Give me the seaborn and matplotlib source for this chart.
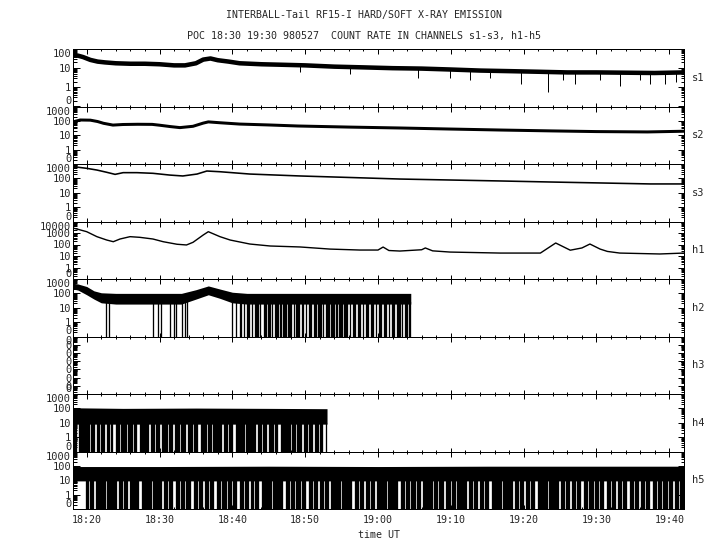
import numpy as np
import pandas as pd
import matplotlib
matplotlib.use("Agg")
import matplotlib.pyplot as plt
import seaborn as sns
from matplotlib.ticker import FixedLocator, MultipleLocator, FuncFormatter, LogLocator, NullFormatter

# ---------------- data (time in minutes after 18:00 UT) ----------------
channels = ["s1", "s2", "s3", "h1", "h2", "h3", "h4", "h5"]
panel_tops = [100, 1000, 1000, 10000, 1000, 1, 1000, 1000]
panel_bottoms = [0.1, 0.1, 0.1, 0.1, 0.1, 1e-7, 0.1, 0.1]

s1_t = [18.2, 18.8, 19.5, 20.5, 21.5, 22.5, 24, 26, 28, 30, 32, 33.5, 35, 36, 37, 38, 39.5, 41,
        44, 47, 50, 54, 58, 62, 66, 70, 74, 78, 82, 86, 90, 94, 98, 102]
s1_v = [45, 45, 38, 27, 22, 20, 18, 17, 17, 16, 14, 14, 18, 28, 32, 26, 22, 18,
        16, 15, 14, 12, 11, 10, 9.5, 8.5, 7.5, 7, 6.5, 6, 6, 5.8, 5.6, 6]
s1_spike_t = [49.3, 56.2, 65.5, 69.9, 72.7, 75.4, 79.7, 83.3, 85.4, 87.1, 90.5, 93.2, 96.0,
              97.4, 99.4, 100.9]
s1_spike_min = [6, 5, 3, 3, 2.5, 3, 1.5, 0.6, 2.5, 1.5, 2.5, 1.2, 2.5, 1.5, 1.5, 2]

s2_t = [18.2, 19.1, 20.5, 21.5, 22.3, 23.6, 25, 27, 29, 30, 31.5, 32.8, 34.6, 36, 36.7, 38.3,
        41, 45, 49, 56, 63, 70, 77, 84, 90, 97, 102]
s2_v = [87, 115, 112, 90, 68, 51, 56, 58, 57, 50, 40, 34, 42, 70, 85, 74,
        60, 52, 44, 37, 32, 27, 23, 20, 18, 17, 19]

s3_t = [18.2, 20, 21.4, 22.75, 23.9, 25, 26.9, 29.1, 31.4, 33.2, 35.15, 36.5, 38.3, 42.4,
        49.3, 56.2, 63, 69.9, 76.8, 83.6, 90.5, 97.4, 102]
s3_v = [650, 500, 380, 265, 190, 250, 250, 225, 170, 147, 200, 325, 290, 200,
        147, 115, 90, 77, 66, 56, 48, 41, 41]

h1_t = [18.2, 18.8, 20, 21.4, 22.75, 23.65, 24.57, 25.95, 27.3, 29.1, 30.5, 32.4, 33.7, 34.6,
        36, 36.7, 38.3, 39.7, 42.4, 45.2, 49.3, 53.4, 57.5, 60.0, 60.7, 61.5, 63, 66, 66.5,
        67.5, 69.9, 76.8, 82.3, 84.4, 86.4, 88, 89.1, 90.5, 91.5, 93.2, 98.7, 102]
h1_v = [2600, 2100, 1300, 480, 245, 175, 300, 480, 420, 300, 175, 105, 91, 155,
        670, 1300, 480, 245, 110, 74, 61, 40, 33, 33, 60, 30, 27, 35, 50,
        28, 22, 18, 18, 135, 32, 50, 110, 40, 25, 18, 15, 18]

# h2: noise band and intervals where the count drops to zero
h2_t = [18.16, 18.8, 20, 21, 22, 24, 30, 33, 35, 36.7, 38.3, 40, 42, 50, 60, 64.5]
h2_hi = [500, 450, 300, 150, 110, 100, 100, 100, 180, 330, 200, 120, 100, 100, 100, 100]
h2_lo = [200, 170, 80, 40, 22, 18, 18, 18, 40, 80, 45, 22, 18, 18, 18, 18]
h2_zero_start = [22.7, 23.0, 29.15, 29.8, 30.15, 31.4, 32.0, 32.3, 33.05, 33.5, 33.8,
                 40.0, 40.5, 41.0, 41.6, 42.0, 42.7, 43.1, 43.85, 44.3, 44.95, 45.5, 45.9,
                 46.6, 47.0, 47.7, 48.4, 48.8, 49.5, 50.1, 50.5, 51.2, 51.8, 52.5, 52.9,
                 53.6, 54.3, 54.7, 55.4, 56.1, 56.5, 57.2, 57.9, 58.3, 59.0, 59.7, 60.1,
                 60.8, 61.5, 61.9, 62.6, 63.3, 63.7, 64.3]
h2_zero_end = [22.85, 23.15, 29.3, 29.95, 30.3, 31.55, 32.15, 32.45, 33.2, 33.65, 33.95,
               40.15, 40.65, 41.3, 41.75, 42.4, 42.85, 43.6, 44.0, 44.7, 45.3, 45.65, 46.4,
               46.75, 47.5, 48.2, 48.55, 49.3, 49.9, 50.25, 51.0, 51.6, 52.3, 52.65, 53.4,
               54.1, 54.45, 55.2, 55.9, 56.3, 57.0, 57.7, 58.05, 58.8, 59.5, 59.85, 60.6,
               61.3, 61.65, 62.4, 63.1, 63.45, 64.1, 64.5]

# h4: noise band and the short intervals where the count stays above zero
h4_t = [18.16, 25, 35, 45, 53.0]
h4_hi = [110, 100, 105, 100, 95]
h4_lo = [8, 8, 8, 8, 8]
h4_gap_start = [18.6, 20.0, 20.45, 21.15, 21.8, 22.5, 23.2, 23.65, 24.55, 25.5, 26.4, 26.95,
                27.8, 28.5, 29.4, 30.05, 31.2, 31.9, 32.8, 33.7, 34.6, 35.3, 36.5, 37.2,
                37.85, 38.6, 39.4, 40.1, 41.0, 41.7, 42.5, 43.2, 44.1, 44.8, 45.7, 46.3,
                47.3, 48.0, 48.8, 49.5, 50.4, 51.1, 51.9, 52.5]
h4_gap_end = [18.9, 20.1, 20.65, 21.4, 21.9, 22.8, 23.3, 24.0, 24.65, 25.7, 26.5, 27.3,
              27.9, 28.8, 29.5, 30.4, 31.3, 32.1, 32.9, 33.95, 34.7, 35.75, 36.6, 37.4,
              37.95, 38.9, 39.5, 40.45, 41.1, 41.9, 42.6, 43.55, 44.2, 45.1, 45.8, 46.7,
              47.4, 48.2, 48.9, 49.85, 50.5, 51.3, 52.0, 52.8]

# h5: noise band and the short intervals where the count stays above zero
h5_t = [18.16, 30, 45, 60, 75, 90, 102.06]
h5_hi = [90, 90, 95, 90, 95, 95, 95]
h5_lo = [9, 9, 9, 9, 9, 9, 9]
h5_gap_start = [18.16, 20.3, 21.0, 21.9, 22.6, 23.3, 24.1, 25.0, 25.7, 26.6, 27.2, 28.1, 28.9,
                29.6, 30.3, 31.2, 31.9, 32.8, 33.5, 34.3, 35.3, 36.0, 36.8, 37.5, 38.5, 39.2,
                40.0, 40.7, 41.6, 42.3, 43.0, 43.7, 44.7, 45.4, 46.2, 46.9, 47.9, 48.6, 49.4,
                50.1, 51.1, 51.8, 52.6, 53.3, 54.2, 54.9, 55.7, 56.4, 57.4, 58.1, 58.9, 59.6,
                60.5, 61.2, 62.0, 62.7, 63.7, 64.4, 65.2, 65.9, 66.8, 67.5, 68.3, 69.0, 70.0,
                70.7, 71.5, 72.2, 73.1, 73.8, 74.6, 75.3, 76.3, 77.0, 77.8, 78.5, 79.4, 80.1,
                80.9, 81.6, 82.6, 83.3, 84.1, 84.8, 85.7, 86.4, 87.2, 87.9, 88.9, 89.6, 90.4,
                91.1, 92.0, 92.7, 93.5, 94.2, 95.2, 95.9, 96.7, 97.4, 98.3, 99.0, 99.8,
                100.5, 101.4]
h5_gap_end = [19.9, 20.4, 21.3, 22.0, 22.8, 23.4, 24.5, 25.1, 25.9, 26.7, 27.6, 28.2, 29.1,
              29.7, 30.6, 31.3, 32.2, 32.9, 33.7, 34.7, 35.4, 36.2, 36.9, 37.9, 38.6, 39.4,
              40.1, 41.0, 41.7, 42.5, 43.1, 44.1, 44.8, 45.6, 46.3, 47.3, 48.0, 48.8, 49.5,
              50.5, 51.2, 52.0, 52.7, 53.6, 54.3, 55.1, 55.8, 56.8, 57.5, 58.3, 59.0, 59.9,
              60.6, 61.4, 62.1, 63.1, 63.8, 64.6, 65.3, 66.2, 66.9, 67.7, 68.4, 69.4, 70.1,
              70.9, 71.6, 72.5, 73.2, 74.0, 74.7, 75.7, 76.4, 77.2, 77.9, 78.8, 79.5, 80.3,
              81.0, 82.0, 82.7, 83.5, 84.2, 85.1, 85.8, 86.6, 87.3, 88.3, 89.0, 89.8, 90.5,
              91.4, 92.1, 92.9, 93.6, 94.6, 95.3, 96.1, 96.8, 97.7, 98.4, 99.2, 99.9,
              100.8, 101.5]

title1 = "INTERBALL-Tail RF15-I HARD/SOFT X-RAY EMISSION"
title2 = "POC 18:30 19:30 980527  COUNT RATE IN CHANNELS s1-s3, h1-h5"
x_label = "time UT"
x_min, x_max = 18.16, 102.06

# ---------------- style ----------------
sns.set_theme(style="white")
plt.rcParams['font.family'] = ['DejaVu Sans Mono', 'DejaVu Sans']
plt.rcParams['axes.linewidth'] = 0.75
PX = 0.72  # one pixel in points at 100 dpi

fig = plt.figure(figsize=(7.2, 5.5), dpi=100)
fig.patch.set_facecolor("white")

L, R = 73.3, 684.3
TOP, H = 49.0, 57.5
W_, H_ = 720.0, 550.0


def tfmt(m, pos=None):
    m = int(round(m))
    return f"{18 + m // 60}:{m % 60:02d}"


def ylabel_fmt(v, pos=None):
    if v < 0.5:
        return "0"
    return f"{int(round(v))}"


def complement(t0, t1, gs, ge):
    """Zero-count intervals = the parts of [t0, t1] outside the listed gaps."""
    starts, ends = [], []
    cur = t0
    for a, b in zip(gs, ge):
        if a > cur:
            starts.append(cur)
            ends.append(a)
        cur = max(cur, b)
    if cur < t1:
        starts.append(cur)
        ends.append(t1)
    return starts, ends


axes = []
for i, ch in enumerate(channels):
    y0 = (H_ - (TOP + H * (i + 1))) / H_
    ax = fig.add_axes([L / W_, y0, (R - L) / W_, H / H_])
    ax.set_facecolor("white")
    ax.set_yscale("log")
    ax.set_xlim(x_min, x_max)
    ax.set_ylim(panel_bottoms[i], panel_tops[i])
    for sp in ax.spines.values():
        sp.set_color("black")
        sp.set_linewidth(PX)
    axes.append(ax)


def band(ax, t, lo, hi, z0, z1):
    ax.fill_between(t, lo, hi, color="black", linewidth=0)
    for a, b in zip(z0, z1):
        top = float(min(np.interp(a, t, lo), np.interp(b, t, lo))) * 1.3
        ax.fill_between([a, b], [0.05, 0.05], [top, top], color="black",
                        edgecolor="black", linewidth=0.3 * PX)


# s1
df = pd.DataFrame({"t": s1_t, "v": s1_v})
sns.lineplot(data=df, x="t", y="v", ax=axes[0], color="black", linewidth=4.5 * PX)
top_sp = np.interp(s1_spike_t, s1_t, s1_v)
axes[0].vlines(s1_spike_t, s1_spike_min, top_sp, color="black", linewidth=PX)
# s2
sns.lineplot(data=pd.DataFrame({"t": s2_t, "v": s2_v}), x="t", y="v", ax=axes[1],
             color="black", linewidth=3 * PX)
# s3
sns.lineplot(data=pd.DataFrame({"t": s3_t, "v": s3_v}), x="t", y="v", ax=axes[2],
             color="black", linewidth=1.6 * PX)
# h1
sns.lineplot(data=pd.DataFrame({"t": h1_t, "v": h1_v}), x="t", y="v", ax=axes[3],
             color="black", linewidth=1.4 * PX)
# h2, h4, h5
band(axes[4], h2_t, h2_lo, h2_hi, h2_zero_start, h2_zero_end)
z4s, z4e = complement(h4_t[0], h4_t[-1], h4_gap_start, h4_gap_end)
band(axes[6], h4_t, h4_lo, h4_hi, z4s, z4e)
z5s, z5e = complement(h5_t[0], h5_t[-1], h5_gap_start, h5_gap_end)
band(axes[7], h5_t, h5_lo, h5_hi, z5s, z5e)

for i, ax in enumerate(axes):
    lo, hi = panel_bottoms[i], panel_tops[i]
    k0, k1 = int(round(np.log10(lo))), int(round(np.log10(hi)))
    majors = [10.0 ** k for k in range(k0, k1 + 1)]
    ax.yaxis.set_major_locator(FixedLocator(majors))
    ax.yaxis.set_minor_locator(LogLocator(base=10, subs=range(2, 10), numticks=20))
    ax.yaxis.set_minor_formatter(NullFormatter())
    if i == 5:
        ax.yaxis.set_major_formatter(FuncFormatter(lambda v, p: "0"))
    else:
        ax.yaxis.set_major_formatter(FuncFormatter(ylabel_fmt))
    ax.set_ylabel("")
    ax.set_xlabel("")
    ax.xaxis.set_major_locator(MultipleLocator(10))
    ax.xaxis.set_minor_locator(MultipleLocator(2))
    ax.xaxis.set_major_formatter(FuncFormatter(tfmt))
    ax.tick_params(axis="both", which="both", direction="in", top=True, bottom=True,
                   left=True, right=True, width=PX, color="black")
    ax.tick_params(axis="x", which="major", length=4.5 * PX)
    ax.tick_params(axis="x", which="minor", length=2.2 * PX)
    ax.tick_params(axis="y", which="major", length=6.5 * PX, labelsize=7.5, pad=1.5)
    ax.tick_params(axis="y", which="minor", length=3.5 * PX)
    ax.tick_params(axis="x", labelbottom=(i == len(axes) - 1), labelsize=7.2, pad=4)
    ax.grid(False)
    labs = ax.get_yticklabels()
    if labs:
        labs[0].set_verticalalignment("bottom")
        labs[-1].set_verticalalignment("top")
    ax.text(1.0 + (698.5 - R) / (R - L), 0.5, channels[i], transform=ax.transAxes,
            ha="center", va="center", fontsize=7.5)

axes[-1].set_xlabel(x_label, fontsize=7.2, labelpad=4)

fig.text(364 / W_, 1 - 15 / H_, title1, ha="center", va="center", fontsize=7.2)
fig.text(364 / W_, 1 - 36 / H_, title2, ha="center", va="center", fontsize=7.2)

fig.savefig("out.png", dpi=100, facecolor="white")
